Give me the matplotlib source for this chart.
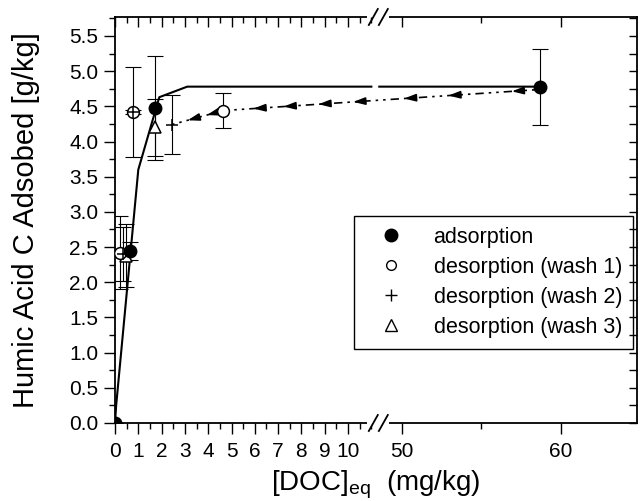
import numpy as np
import matplotlib.pyplot as plt
from matplotlib.lines import Line2D
from matplotlib.patches import Rectangle
from matplotlib.ticker import FixedLocator, FixedFormatter

plt.rcParams['font.family'] = ['Liberation Sans', 'DejaVu Sans']
plt.rcParams['mathtext.default'] = 'regular'

# data
ads_x = [0.0, 0.64, 1.70, 58.7]
ads_y = [0.0, 2.44, 4.48, 4.78]
ads_err = [0.0, 0.13, 0.74, 0.54]

w1_x = [0.21, 0.78, 4.65]
w1_y = [2.42, 4.42, 4.44]
w1_err = [0.52, 0.64, 0.25]

w2_x = [0.35, 0.78, 2.43]
w2_y = [2.40, 4.42, 4.24]
w2_err = [0.38, 0.03, 0.42]

w3_x = [0.46, 1.70]
w3_y = [2.38, 4.20]
w3_err = [0.45, 0.40]

# isotherm fit (solid line), nan = gap at the axis break
fit_x = [0.0, 0.05, 1.0, 1.9, 3.1, 11.0, np.nan, 48.6, 58.7]
fit_y = [0.0, 0.25, 3.6, 4.63, 4.78, 4.78, np.nan, 4.78, 4.78]

# desorption path (dash-dot with arrows)
path_x = [58.7, 4.65, 2.43]
path_y = [4.74, 4.44, 4.24]
arrow_fracs = [[0.09, 0.29, 0.43, 0.59, 0.70, 0.81, 0.905], [0.32, 0.69]]

x_major = [0, 1, 2, 3, 4, 5, 6, 7, 8, 9, 10, 50, 60]
x_minor = list(np.arange(0.5, 11.01, 0.5)) + [55]
x_labels = [str(v) for v in x_major]

# broken x axis
BRK_LO = 11.3
BRK_HI = 48.54
SQUEEZE = 0.684


def fwd(x):
    x = np.asarray(x, dtype=float)
    out = np.where(x <= BRK_LO, x,
                   np.where(x >= BRK_HI, BRK_LO + (x - BRK_HI) * SQUEEZE, BRK_LO))
    return np.where(np.isnan(x), np.nan, out)


def inv(t):
    t = np.asarray(t, dtype=float)
    return np.where(t <= BRK_LO, t, BRK_HI + (t - BRK_LO) / SQUEEZE)


fig = plt.figure(figsize=(6.41, 5.01), dpi=100)
ax = fig.add_axes([0.1794, 0.1557, 0.8144, 0.8104])
ax.set_xscale('function', functions=(fwd, inv))
xlim = (0, 64.77)
ylim = (0, 5.77)

ax.plot(fit_x, fit_y, color='black', lw=1.5, zorder=3)

ax.plot(path_x, path_y, color='black', lw=1.2,
        linestyle=(0, (5, 3, 1.5, 3, 1.5, 3)), zorder=3)
for i, fracs in enumerate(arrow_fracs):
    t0, t1 = float(fwd(path_x[i])), float(fwd(path_x[i + 1]))
    y0, y1 = path_y[i], path_y[i + 1]
    dl = 0.45 / abs(t1 - t0)
    for f in fracs:
        th, yh = t0 + f * (t1 - t0), y0 + f * (y1 - y0)
        tt, yt = t0 + (f - dl) * (t1 - t0), y0 + (f - dl) * (y1 - y0)
        ax.annotate('', xy=(float(inv(th)), yh), xytext=(float(inv(tt)), yt),
                    arrowprops=dict(arrowstyle='-|>,head_length=0.7,head_width=0.22',
                                    color='black', lw=1.2, shrinkA=0, shrinkB=0),
                    zorder=4)

eb = dict(fmt='none', ecolor='black', elinewidth=0.8, capsize=6, capthick=0.8, zorder=2)
ax.errorbar(ads_x, ads_y, yerr=ads_err, **eb)
ax.errorbar(w1_x, w1_y, yerr=w1_err, **eb)
ax.errorbar(w2_x, w2_y, yerr=w2_err, **eb)
ax.errorbar(w3_x, w3_y, yerr=w3_err, **eb)

ax.plot(w3_x, w3_y, '^', ms=9, mfc='white', mec='black', mew=1.1, zorder=5)
ax.plot(w1_x, w1_y, 'o', ms=8.5, mfc='white', mec='black', mew=1.1, zorder=5)
ax.plot(w2_x, w2_y, '+', ms=9, color='black', mew=1.1, zorder=6)
ax.plot(ads_x, ads_y, 'o', ms=9, color='black', zorder=6)

ax.set_xlim(xlim)
ax.set_ylim(ylim)
ax.xaxis.set_major_locator(FixedLocator(x_major))
ax.xaxis.set_major_formatter(FixedFormatter(x_labels))
ax.xaxis.set_minor_locator(FixedLocator(x_minor))
ax.set_yticks(np.arange(0, 5.51, 0.5))
ax.set_yticks(np.arange(0.25, 5.76, 0.5), minor=True)
ax.yaxis.set_major_formatter(plt.FormatStrFormatter('%.1f'))
ax.tick_params(which='both', direction='out', width=1, labelsize=15)
ax.tick_params(which='major', length=8)
ax.tick_params(which='minor', length=4)
ax.tick_params(axis='x', pad=6)
ax.tick_params(axis='y', pad=4)
for s in ax.spines.values():
    s.set_linewidth(1.3)

# top and right ticks point inward
ax_t = ax.twiny()
ax_t.set_xscale('function', functions=(fwd, inv))
ax_t.set_xlim(xlim)
ax_t.xaxis.set_major_locator(FixedLocator(x_major))
ax_t.xaxis.set_minor_locator(FixedLocator(x_minor))
ax_t.tick_params(which='both', direction='in', labeltop=False, width=1)
ax_t.tick_params(which='major', length=7)
ax_t.tick_params(which='minor', length=4)
ax_r = ax.twinx()
ax_r.set_ylim(ylim)
ax_r.set_yticks(np.arange(0, 5.51, 0.5))
ax_r.set_yticks(np.arange(0.25, 5.76, 0.5), minor=True)
ax_r.tick_params(which='both', direction='in', labelright=False, width=1, length=6)
for a in (ax_t, ax_r):
    for s in a.spines.values():
        s.set_visible(False)

# break marks on top and bottom spines
cx = float(fwd(BRK_LO)) / float(fwd(xlim[1]))
for yb in (0, 1):
    ax.add_patch(Rectangle((cx - 0.021, yb - 0.008), 0.042, 0.016, transform=ax.transAxes,
                           facecolor='white', edgecolor='none', clip_on=False, zorder=10))
    for dx in (-0.0096, 0.0096):
        ax.plot([cx + dx - 0.0086, cx + dx + 0.0086], [yb - 0.0197, yb + 0.0197],
                transform=ax.transAxes, color='black', lw=1.3, clip_on=False, zorder=11)

ax.set_xlabel('[DOC]$_{eq}$  (mg/kg)', fontsize=20, labelpad=5)
ax.set_ylabel('Humic Acid C Adsobed [g/kg]', fontsize=21, labelpad=21)

handles = [
    Line2D([], [], ls='none', marker='o', ms=9, color='black'),
    Line2D([], [], ls='none', marker='o', ms=7, mfc='white', mec='black', mew=1),
    Line2D([], [], ls='none', marker='+', ms=9, color='black', mew=1),
    Line2D([], [], ls='none', marker='^', ms=8, mfc='white', mec='black', mew=1),
]
labels = ['adsorption', 'desorption (wash 1)', 'desorption (wash 2)', 'desorption (wash 3)']
leg = ax.legend(handles, labels, loc='upper right', bbox_to_anchor=(0.992, 0.51),
                fontsize=15.5, frameon=True, fancybox=False, edgecolor='black',
                framealpha=1, labelspacing=0.42, handletextpad=0.8, borderpad=0.5,
                handlelength=2.4, borderaxespad=0)
leg.get_frame().set_linewidth(1.0)
leg.set_zorder(8)

fig.savefig('out.png', dpi=100)
